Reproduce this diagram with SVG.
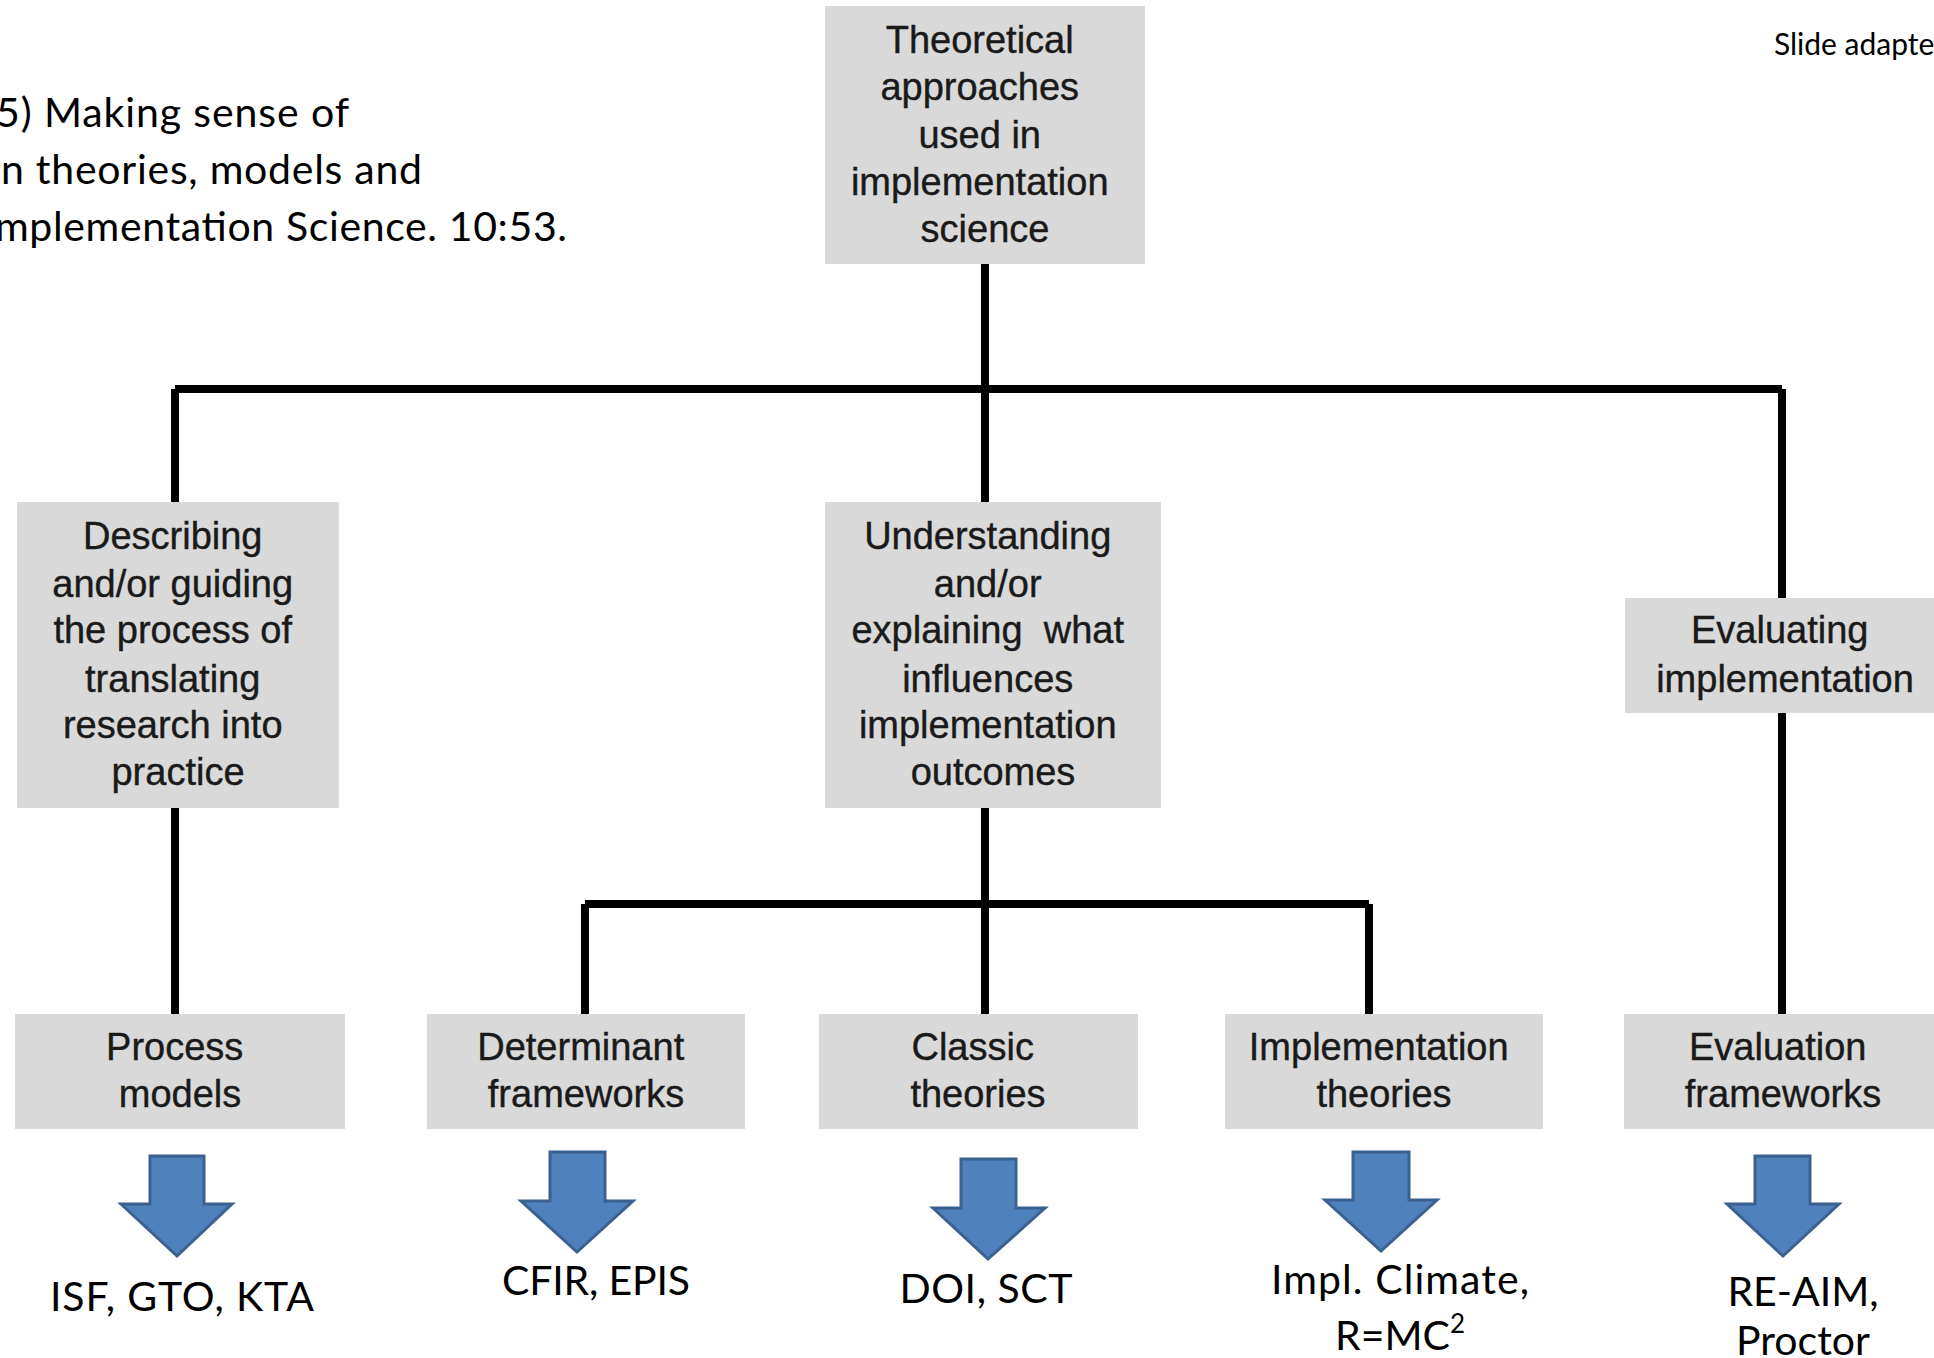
<svg xmlns="http://www.w3.org/2000/svg" width="1934" height="1358" viewBox="0 0 1934 1358">
  <style>
    .box { fill: #d9d9d9; }
    .bt { font-family: "Liberation Sans", Arial, sans-serif; font-size: 38px; fill: #1a1a1a; stroke: #1a1a1a; stroke-width: 0.4; text-anchor: middle; }
    .wire { fill: none; stroke: #000; stroke-width: 8; stroke-linecap: butt; }
    .arrow { fill: #4f81bd; stroke: #3b6190; stroke-width: 3; stroke-linejoin: miter; }
    .lbl { font-family: Lato, "Noto Sans", sans-serif; font-size: 41px; fill: #000; text-anchor: middle; }
    .cite { font-family: Lato, "Noto Sans", sans-serif; font-size: 41px; fill: #000; }
    .note { font-family: Lato, "Noto Sans", sans-serif; font-size: 30px; fill: #000; }
  </style>
  <rect width="1934" height="1358" fill="#fff"/>

  <!-- citation block and credit line -->
  <g id="citation">
    <text class="cite" x="-4" y="127" textLength="353">5) Making sense of</text>
    <text class="cite" x="1" y="184" textLength="421">n theories, models and</text>
    <text class="cite" x="-5" y="241" textLength="572">mplementation Science. 10:53.</text>
  </g>
  <g id="credit">
    <text class="note" x="1774" y="55">Slide adapte</text>
  </g>

  <!-- tree connectors -->
  <g id="connectors">
    <path class="wire" d="M985 264 V389"/>
    <path class="wire" d="M175 389 H1782"/>
    <path class="wire" d="M175 389 V502"/>
    <path class="wire" d="M985 389 V502"/>
    <path class="wire" d="M1782 389 V598"/>
    <path class="wire" d="M175 808 V1014"/>
    <path class="wire" d="M985 808 V1014"/>
    <path class="wire" d="M585 904 H1369"/>
    <path class="wire" d="M585 904 V1014"/>
    <path class="wire" d="M1369 904 V1014"/>
    <path class="wire" d="M1782 713 V1014"/>
  </g>

  <!-- root -->
  <g id="node-root">
    <rect class="box" x="825" y="6" width="320" height="258"/>
    <text class="bt">
      <tspan x="985" y="53">Theoretical</tspan>
      <tspan x="985" y="100">approaches</tspan>
      <tspan x="985" y="148">used in</tspan>
      <tspan x="985" y="195">implementation</tspan>
      <tspan x="985" y="242">science</tspan>
    </text>
  </g>

  <!-- second level -->
  <g id="node-describing">
    <rect class="box" x="17" y="502" width="322" height="306"/>
    <text class="bt">
      <tspan x="178" y="549">Describing</tspan>
      <tspan x="178" y="597">and/or guiding</tspan>
      <tspan x="178" y="643">the process of</tspan>
      <tspan x="178" y="692">translating</tspan>
      <tspan x="178" y="738">research into</tspan>
      <tspan x="178" y="785">practice</tspan>
    </text>
  </g>

  <g id="node-understanding">
    <rect class="box" x="825" y="502" width="336" height="306"/>
    <text class="bt">
      <tspan x="993" y="549">Understanding</tspan>
      <tspan x="993" y="597">and/or</tspan>
      <tspan x="993" y="643" xml:space="preserve">explaining  what</tspan>
      <tspan x="993" y="692">influences</tspan>
      <tspan x="993" y="738">implementation</tspan>
      <tspan x="993" y="785">outcomes</tspan>
    </text>
  </g>

  <g id="node-evaluating">
    <rect class="box" x="1625" y="598" width="320" height="115"/>
    <text class="bt">
      <tspan x="1785" y="643">Evaluating</tspan>
      <tspan x="1785" y="692">implementation</tspan>
    </text>
  </g>

  <!-- third level -->
  <g id="node-process">
    <rect class="box" x="15" y="1014" width="330" height="115"/>
    <text class="bt">
      <tspan x="180" y="1060">Process</tspan>
      <tspan x="180" y="1107">models</tspan>
    </text>
  </g>

  <g id="node-determinant">
    <rect class="box" x="427" y="1014" width="318" height="115"/>
    <text class="bt">
      <tspan x="586" y="1060">Determinant</tspan>
      <tspan x="586" y="1107">frameworks</tspan>
    </text>
  </g>

  <g id="node-classic">
    <rect class="box" x="819" y="1014" width="319" height="115"/>
    <text class="bt">
      <tspan x="978" y="1060">Classic</tspan>
      <tspan x="978" y="1107">theories</tspan>
    </text>
  </g>

  <g id="node-implementation">
    <rect class="box" x="1225" y="1014" width="318" height="115"/>
    <text class="bt">
      <tspan x="1384" y="1060">Implementation</tspan>
      <tspan x="1384" y="1107">theories</tspan>
    </text>
  </g>

  <g id="node-evaluation">
    <rect class="box" x="1624" y="1014" width="320" height="115"/>
    <text class="bt">
      <tspan x="1783" y="1060">Evaluation</tspan>
      <tspan x="1783" y="1107">frameworks</tspan>
    </text>
  </g>

  <!-- block arrows to examples -->
  <g id="arrows">
    <path class="arrow" d="M150 1156 H204 V1204 H232 L177 1256 L121 1204 H150 Z"/>
    <path class="arrow" d="M550 1152 H605 V1201 H633 L577 1252 L521 1201 H550 Z"/>
    <path class="arrow" d="M961 1159 H1016 V1208 H1045 L988 1259 L933 1208 H961 Z"/>
    <path class="arrow" d="M1353 1152 H1409 V1200 H1437 L1381 1251 L1325 1200 H1353 Z"/>
    <path class="arrow" d="M1755 1156 H1810 V1204 H1839 L1783 1256 L1727 1204 H1755 Z"/>
  </g>

  <!-- example labels -->
  <g id="examples">
    <text class="lbl" x="182" y="1311" textLength="264">ISF, GTO, KTA</text>
    <text class="lbl" x="596" y="1295" textLength="188">CFIR, EPIS</text>
    <text class="lbl" x="986" y="1303" textLength="173">DOI, SCT</text>
    <text class="lbl" x="1400" y="1294" textLength="258">Impl. Climate,</text>
    <text class="lbl" x="1400" y="1350">R=MC<tspan font-size="26" dy="-17">2</tspan></text>
    <text class="lbl" x="1803" y="1306">RE-AIM,</text>
    <text class="lbl" x="1803" y="1355">Proctor</text>
  </g>
</svg>
